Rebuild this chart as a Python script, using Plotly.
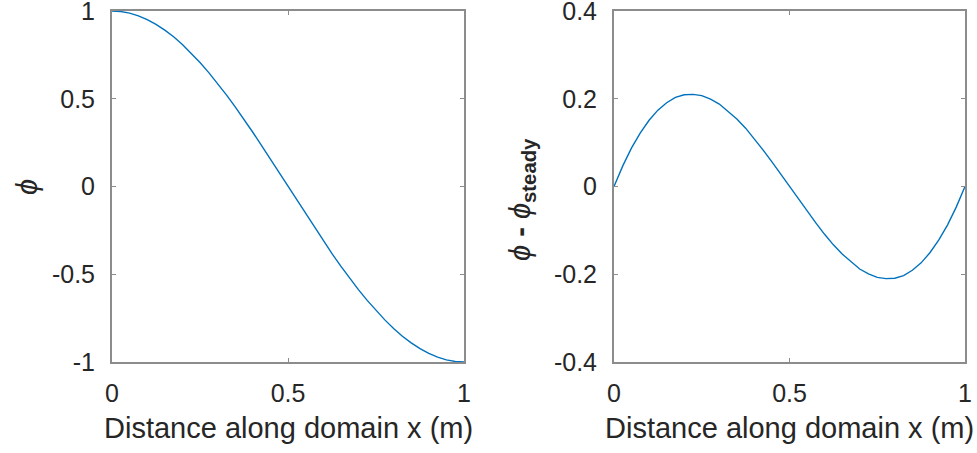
import plotly.graph_objects as go

# Position along the domain (m)
x_pos = [0.000, 0.025, 0.050, 0.075, 0.100, 0.125, 0.150, 0.175, 0.200, 0.225,
         0.250, 0.275, 0.300, 0.325, 0.350, 0.375, 0.400, 0.425, 0.450, 0.475,
         0.500, 0.525, 0.550, 0.575, 0.600, 0.625, 0.650, 0.675, 0.700, 0.725,
         0.750, 0.775, 0.800, 0.825, 0.850, 0.875, 0.900, 0.925, 0.950, 0.975, 1.000]
# Field value phi
phi = [1.000, 0.997, 0.988, 0.972, 0.951, 0.924, 0.891, 0.853, 0.809, 0.760,
       0.707, 0.649, 0.588, 0.522, 0.454, 0.383, 0.309, 0.233, 0.156, 0.078,
       0.000, -0.078, -0.156, -0.233, -0.309, -0.383, -0.454, -0.522, -0.588, -0.649,
       -0.707, -0.760, -0.809, -0.853, -0.891, -0.924, -0.951, -0.972, -0.988, -0.997, -1.000]
# Deviation from the steady-state profile
phi_dev = [0.000, 0.047, 0.088, 0.122, 0.151, 0.174, 0.191, 0.203, 0.209, 0.210,
           0.207, 0.199, 0.188, 0.172, 0.154, 0.133, 0.109, 0.083, 0.056, 0.028,
           0.000, -0.028, -0.056, -0.083, -0.109, -0.133, -0.154, -0.172, -0.188, -0.199,
           -0.207, -0.210, -0.209, -0.203, -0.191, -0.174, -0.151, -0.122, -0.088, -0.047, 0.000]

x_ticks = [0, 0.5, 1]
x_ticklabels = ["0", "0.5", "1"]
y1_ticks = [-1, -0.5, 0, 0.5, 1]
y1_ticklabels = ["-1", "-0.5", "0", "0.5", "1"]
y2_ticks = [-0.4, -0.2, 0, 0.2, 0.4]
y2_ticklabels = ["-0.4", "-0.2", "0", "0.2", "0.4"]

W, H = 977, 453
LINE = "#0072BD"
FRAME = "#8c8c8c"
TXT = "#262626"
FONT = "Liberation Sans, Arial, sans-serif"
TICK_SIZE = 25
LABEL_SIZE = 29

fig = go.Figure()
fig.add_trace(go.Scatter(x=x_pos, y=phi, mode="lines", line=dict(color=LINE, width=1.4),
                         xaxis="x", yaxis="y", showlegend=False))
fig.add_trace(go.Scatter(x=x_pos, y=phi_dev, mode="lines", line=dict(color=LINE, width=1.4),
                         xaxis="x2", yaxis="y2", showlegend=False))


def px(v):
    return v / W


def py(v):
    return 1 - v / H


ax_common = dict(showline=True, linecolor=FRAME, linewidth=2, mirror="ticks",
                 ticks="inside", ticklen=4, tickcolor=FRAME, tickwidth=1,
                 showgrid=False, zeroline=False, automargin=False,
                 ticklabeloverflow="allow",
                 tickfont=dict(family=FONT, size=TICK_SIZE, color=TXT))

fig.update_layout(
    width=W, height=H,
    margin=dict(l=0, r=0, t=0, b=0, autoexpand=False),
    paper_bgcolor="white", plot_bgcolor="white",
    xaxis=dict(domain=[px(112), px(464)], range=[0, 1], tickvals=x_ticks, ticktext=x_ticklabels,
               anchor="y", ticklabelstandoff=8, **ax_common),
    yaxis=dict(domain=[py(362), py(11)], range=[-1, 1], tickvals=y1_ticks, ticktext=y1_ticklabels,
               anchor="x", ticklabelstandoff=10, **ax_common),
    xaxis2=dict(domain=[px(614), px(965)], range=[0, 1], tickvals=x_ticks, ticktext=x_ticklabels,
                anchor="y2", ticklabelstandoff=8, **ax_common),
    yaxis2=dict(domain=[py(362), py(11)], range=[-0.4, 0.4], tickvals=y2_ticks, ticktext=y2_ticklabels,
                anchor="x2", ticklabelstandoff=10, **ax_common),
)

lab_font = dict(family=FONT, size=LABEL_SIZE, color=TXT)
# x-axis titles
for cx in (288, 789):
    fig.add_annotation(text="Distance along domain x (m)", x=px(cx), y=py(428), xref="paper", yref="paper",
                       showarrow=False, xanchor="center", yanchor="middle", font=lab_font)
# y-axis titles
fig.add_annotation(text="<i>ϕ</i>", x=px(27), y=py(187), xref="paper", yref="paper",
                   showarrow=False, textangle=-90, xanchor="center", yanchor="middle", font=lab_font)
fig.add_annotation(text="<i>ϕ</i> <b>-</b> <i>ϕ</i><sub><b>steady</b></sub>", x=px(522), y=py(200),
                   xref="paper", yref="paper", showarrow=False, textangle=-90,
                   xanchor="center", yanchor="middle", font=lab_font)

fig.write_html("out.html")
